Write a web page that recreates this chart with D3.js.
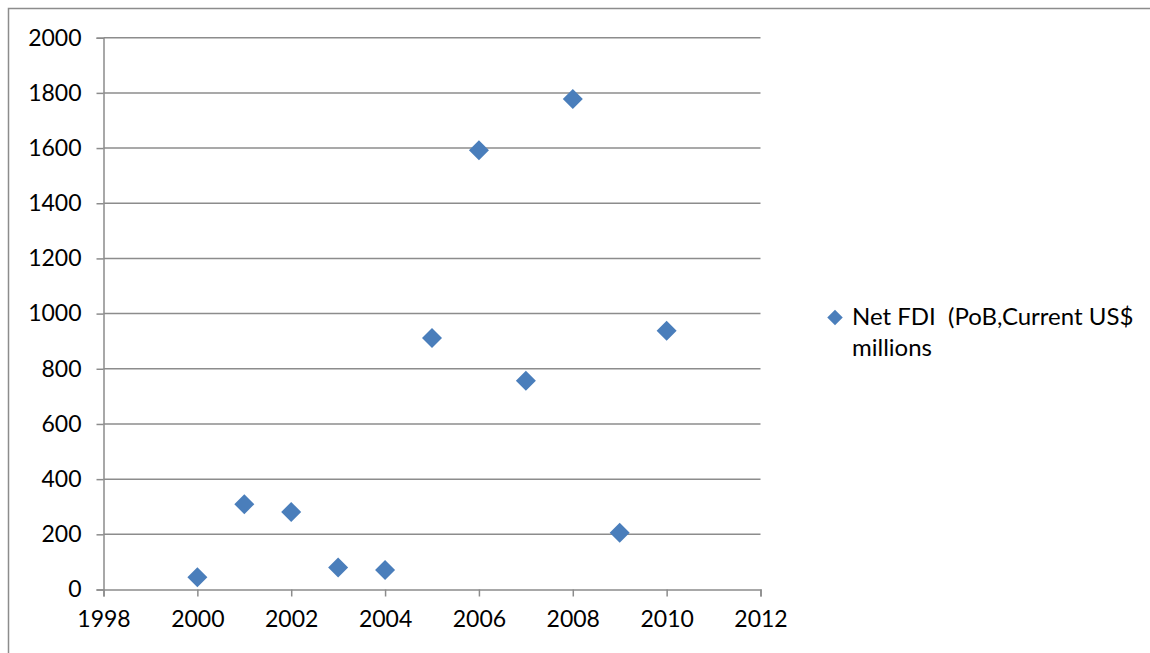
<!DOCTYPE html>
<html>
<head>
<meta charset="utf-8">
<script src="https://cdn.jsdelivr.net/npm/d3@7"></script>
<style>
  html, body { margin: 0; padding: 0; background: #fff; }
  svg { display: block; }
  text { font-family: Lato, "Open Sans", sans-serif; fill: #000; white-space: pre; }
</style>
</head>
<body>
<svg id="chart" width="1150" height="653"></svg>
<script>
// Net FDI by year (current US$ millions)
const years = [2000, 2001, 2002, 2003, 2004, 2005, 2006, 2007, 2008, 2009, 2010];
const netFDI = [44, 309, 281, 80, 71, 912, 1592, 757, 1778, 206, 938];
const xTicks = [1998, 2000, 2002, 2004, 2006, 2008, 2010, 2012];
const yTicks = [0, 200, 400, 600, 800, 1000, 1200, 1400, 1600, 1800, 2000];
const legendLines = ["Net FDI  (PoB,Current US$", "millions"];

const svg = d3.select("#chart");
const W = 1150, H = 653;
const m = { left: 103.5, right: 760.5, top: 37.7, bottom: 589.5 };
const gridColor = "#8c8c8c";
const markColor = "#4a7ebb";
const fontSize = 23;

// outer frame (top and left edges visible)
svg.append("path")
  .attr("d", `M8.5,${H} V8.5 H${W}`)
  .attr("fill", "none").attr("stroke", "#8c8c8c").attr("stroke-width", 1.5);

const x = d3.scaleLinear().domain([1998, 2012]).range([m.left, m.right]);
const y = d3.scaleLinear().domain([0, 2000]).range([m.bottom, m.top]);

// horizontal gridlines
svg.append("g").selectAll("line").data(yTicks.filter(d => d > 0)).join("line")
  .attr("x1", m.left).attr("x2", m.right)
  .attr("y1", d => y(d)).attr("y2", d => y(d))
  .attr("stroke", gridColor).attr("stroke-width", 1.5);

// y axis
const yAxis = svg.append("g").attr("transform", `translate(${m.left},0)`)
  .call(d3.axisLeft(y).tickValues(yTicks).tickSize(7).tickPadding(15).tickFormat(d3.format("d")));
yAxis.select(".domain").attr("stroke", gridColor).attr("stroke-width", 1.5);
yAxis.selectAll(".tick line").attr("stroke", gridColor).attr("stroke-width", 1.5);
yAxis.selectAll("text").attr("font-size", fontSize).attr("font-family", "Lato, sans-serif").attr("fill", "#000");

// x axis
const xAxis = svg.append("g").attr("transform", `translate(0,${m.bottom})`)
  .call(d3.axisBottom(x).tickValues(xTicks).tickSize(7).tickPadding(14).tickFormat(d3.format("d")));
xAxis.select(".domain").attr("stroke", gridColor).attr("stroke-width", 1.5);
xAxis.selectAll(".tick line").attr("stroke", gridColor).attr("stroke-width", 1.5);
xAxis.selectAll("text").attr("font-size", fontSize).attr("font-family", "Lato, sans-serif").attr("fill", "#000");

// points
const diamond = d3.symbol().type(d3.symbolSquare).size(200);
svg.append("g").selectAll("path").data(years.map((yr, i) => ({ yr, v: netFDI[i] }))).join("path")
  .attr("d", diamond)
  .attr("transform", d => `translate(${x(d.yr)},${y(d.v)}) rotate(45)`)
  .attr("fill", markColor);

// legend
const lg = svg.append("g").attr("transform", "translate(835,317.5)");
lg.append("path").attr("d", d3.symbol().type(d3.symbolSquare).size(120)())
  .attr("transform", "rotate(45)").attr("fill", markColor);
lg.selectAll("text").data(legendLines).join("text")
  .attr("x", 17).attr("y", (d, i) => 7.5 + i * 31)
  .attr("font-size", 24)
  .attr("xml:space", "preserve")
  .text(d => d);
</script>
</body>
</html>
